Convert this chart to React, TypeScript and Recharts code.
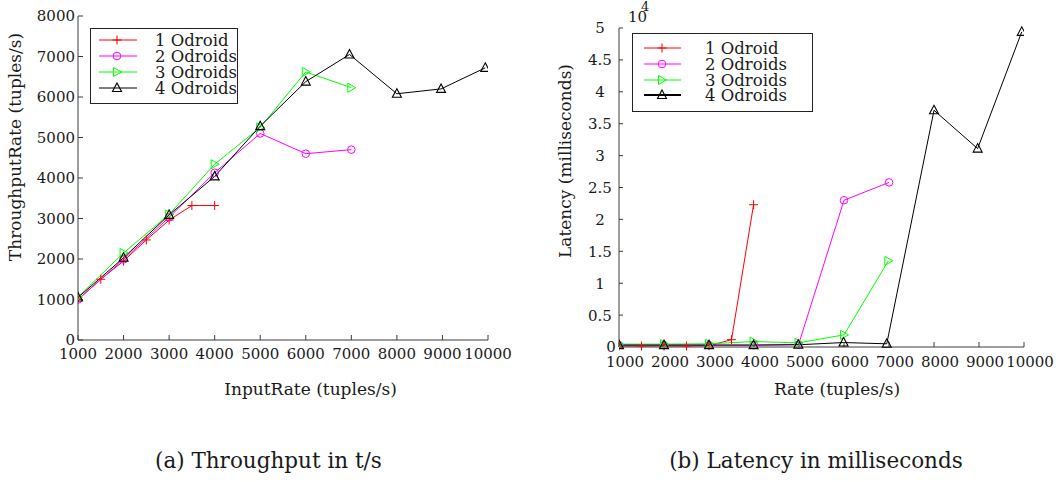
import React from 'react';
import { LineChart, Line, XAxis, YAxis, Legend } from 'recharts';

const FONT = '"DejaVu Serif", serif';
const AXIS = '#3c3c3c';
const TEXT = '#1a1a1a';

// ---------- shared ----------
const rateTicks = [1000, 2000, 3000, 4000, 5000, 6000, 7000, 8000, 9000, 10000];
const throughputTicks = [0, 1000, 2000, 3000, 4000, 5000, 6000, 7000, 8000];
const latencyTicks = [0, 5000, 10000, 15000, 20000, 25000, 30000, 35000, 40000, 45000, 50000];

const seriesNames = ['1 Odroid', '2 Odroids', '3 Odroids', '4 Odroids'];
const seriesColors = ['#ff0000', '#ff00ff', '#00ff00', '#000000'];
const seriesMarkers = ['plus', 'circle', 'triRight', 'triUp'];

// ---------- (a) throughput ----------
const tpRate1 = [1000, 1500, 2000, 2500, 3000, 3500, 4000];
const tpValue1 = [1000, 1500, 1950, 2470, 2960, 3320, 3320];
const tpRate2 = [1000, 2000, 3000, 4000, 5000, 6000, 7000];
const tpValue2 = [1000, 1990, 3030, 4130, 5100, 4600, 4700];
const tpRate3 = [1000, 2000, 3000, 4000, 5000, 6000, 7000];
const tpValue3 = [1060, 2150, 3100, 4340, 5250, 6620, 6230];
const tpRate4 = [1000, 2000, 3000, 4000, 5000, 6000, 6960, 8000, 8970, 9940];
const tpValue4 = [1050, 2030, 3090, 4040, 5280, 6380, 7050, 6080, 6200, 6720];

// ---------- (b) latency (ms) ----------
const latRate1 = [1000, 1500, 2000, 2500, 3000, 3500, 3990];
const latValue1 = [150, 150, 150, 150, 200, 1150, 22300];
const latRate2 = [1000, 2000, 3000, 4000, 4990, 6000, 7000];
const latValue2 = [300, 300, 300, 300, 400, 23000, 25800];
const latRate3 = [1000, 2000, 3000, 3990, 4990, 6000, 6985];
const latValue3 = [450, 450, 500, 850, 650, 1900, 13500];
const latRate4 = [1000, 2000, 3000, 3990, 4985, 5990, 6950, 8000, 8970, 9950];
const latValue4 = [300, 300, 300, 300, 350, 700, 500, 37100, 31100, 49400];

const zip = (xs: number[], ys: number[]) => xs.map((x, i) => ({ x, y: ys[i] }));

const tpSeries = [zip(tpRate1, tpValue1), zip(tpRate2, tpValue2), zip(tpRate3, tpValue3), zip(tpRate4, tpValue4)];
const latSeries = [zip(latRate1, latValue1), zip(latRate2, latValue2), zip(latRate3, latValue3), zip(latRate4, latValue4)];

function Marker({ kind, cx, cy, color }: { kind: string; cx: number; cy: number; color: string }) {
  if (cx == null || cy == null || isNaN(cx) || isNaN(cy)) return null;
  switch (kind) {
    case 'plus':
      return (
        <g stroke={color} strokeWidth={1}>
          <line x1={cx - 4.5} y1={cy} x2={cx + 4.5} y2={cy} />
          <line x1={cx} y1={cy - 4.5} x2={cx} y2={cy + 4.5} />
        </g>
      );
    case 'circle':
      return <circle cx={cx} cy={cy} r={3.8} fill="none" stroke={color} strokeWidth={1} />;
    case 'triRight':
      return (
        <polygon
          points={`${cx - 3.5},${cy - 4.5} ${cx + 4.5},${cy} ${cx - 3.5},${cy + 4.5}`}
          fill="none"
          stroke={color}
          strokeWidth={1}
        />
      );
    default:
      return (
        <polygon
          points={`${cx},${cy - 5} ${cx + 4.5},${cy + 3.5} ${cx - 4.5},${cy + 3.5}`}
          fill="none"
          stroke={color}
          strokeWidth={1.1}
        />
      );
  }
}

type LegendCfg = {
  width: number;
  height: number;
  rows: number[];
  lineX1: number;
  lineX2: number;
  markerX: number;
  textX: number;
  fontSize: number;
  thickLast?: boolean;
};

const makeLegend = (cfg: LegendCfg) => (props: any) => {
  const payload = (props && props.payload) || [];
  return (
    <div
      style={{
        position: 'relative',
        width: cfg.width,
        height: cfg.height,
        border: '1px solid #222',
        background: '#fff',
        boxSizing: 'border-box',
      }}
    >
      <svg width={cfg.width} height={cfg.height} style={{ position: 'absolute', left: -1, top: -1, overflow: 'visible' }}>
        {payload.map((e: any, i: number) => {
          const idx = seriesNames.indexOf(e.value);
          const y = cfg.rows[i];
          const color = seriesColors[idx];
          return (
            <g key={e.value}>
              <line
                x1={cfg.lineX1}
                x2={cfg.lineX2}
                y1={y}
                y2={y}
                stroke={color}
                strokeWidth={cfg.thickLast && idx === 3 ? 2 : 1}
              />
              <Marker kind={seriesMarkers[idx]} cx={cfg.markerX} cy={y} color={color} />
              <text x={cfg.textX} y={y + cfg.fontSize * 0.36} fontFamily={FONT} fontSize={cfg.fontSize} fill={TEXT}>
                {e.value}
              </text>
            </g>
          );
        })}
      </svg>
    </div>
  );
};

const leftLegend = makeLegend({
  width: 148,
  height: 76,
  rows: [12, 28, 44, 60],
  lineX1: 9,
  lineX2: 47,
  markerX: 27,
  textX: 65,
  fontSize: 16.5,
});

const rightLegend = makeLegend({
  width: 181,
  height: 79,
  rows: [15, 31, 47, 62],
  lineX1: 12,
  lineX2: 49,
  markerX: 30,
  textX: 73,
  fontSize: 16.5,
  thickLast: true,
});

const fmtLatency = (v: number) => String(v / 10000);

const RightYTick = (props: any) => {
  const { x, y, payload } = props;
  const v = payload.value;
  return (
    <text
      x={v === 0 ? x + 11 : x}
      y={y}
      dy="0.36em"
      textAnchor="middle"
      fontFamily={FONT}
      fontSize={15}
      fill={TEXT}
    >
      {fmtLatency(v)}
    </text>
  );
};

const tickFont = { fontFamily: FONT, fontSize: 15, fill: TEXT };

function ThroughputChart() {
  return (
    <LineChart width={520} height={400} margin={{ top: 16, right: 32, bottom: 0, left: 0 }}>
      <XAxis
        type="number"
        dataKey="x"
        domain={[1000, 10000]}
        ticks={rateTicks}
        interval={0}
        allowDataOverflow
        height={60}
        tickSize={-5}
        tickMargin={13}
        axisLine={{ stroke: AXIS }}
        tickLine={{ stroke: AXIS }}
        tick={tickFont}
      />
      <YAxis
        type="number"
        dataKey="y"
        domain={[0, 8000]}
        ticks={throughputTicks}
        interval={0}
        width={78}
        tickSize={-5}
        tickMargin={8}
        axisLine={{ stroke: AXIS }}
        tickLine={{ stroke: AXIS }}
        tick={tickFont}
      />
      <Legend
        layout="vertical"
        align="center"
        verticalAlign="middle"
        content={leftLegend}
        wrapperStyle={{ left: 90, top: 28, width: 'auto', height: 'auto' }}
      />
      {tpSeries.map((d, i) => (
        <Line
          key={seriesNames[i]}
          name={seriesNames[i]}
          data={d}
          dataKey="y"
          stroke={seriesColors[i]}
          strokeWidth={1}
          isAnimationActive={false}
          dot={(p: any) => (
            <Marker key={`tp-${i}-${p.index}`} kind={seriesMarkers[i]} cx={p.cx} cy={p.cy} color={seriesColors[i]} />
          )}
          activeDot={false}
        />
      ))}
    </LineChart>
  );
}

function LatencyChart() {
  return (
    <LineChart width={520} height={400} margin={{ top: 28, right: 36, bottom: 0, left: 0 }}>
      <XAxis
        type="number"
        dataKey="x"
        domain={[1000, 10000]}
        ticks={rateTicks}
        interval={0}
        allowDataOverflow
        height={53}
        tickSize={-5}
        tickMargin={14}
        axisLine={{ stroke: AXIS }}
        tickLine={{ stroke: AXIS }}
        tick={{ ...tickFont, dx: 6 }}
      />
      <YAxis
        type="number"
        dataKey="y"
        domain={[0, 50000]}
        ticks={latencyTicks}
        interval={0}
        width={79}
        tickSize={-4}
        tickMargin={23}
        axisLine={{ stroke: AXIS }}
        tickLine={{ stroke: AXIS }}
        tick={<RightYTick />}
      />
      <Legend
        layout="vertical"
        align="center"
        verticalAlign="middle"
        content={rightLegend}
        wrapperStyle={{ left: 92, top: 33, width: 'auto', height: 'auto' }}
      />
      {latSeries.map((d, i) => (
        <Line
          key={seriesNames[i]}
          name={seriesNames[i]}
          data={d}
          dataKey="y"
          stroke={seriesColors[i]}
          strokeWidth={1}
          isAnimationActive={false}
          dot={(p: any) => (
            <Marker key={`lat-${i}-${p.index}`} kind={seriesMarkers[i]} cx={p.cx} cy={p.cy} color={seriesColors[i]} />
          )}
          activeDot={false}
        />
      ))}
    </LineChart>
  );
}

export default function App() {
  return (
    <div style={{ position: 'absolute', left: 0, top: 0, width: 1060, height: 482, background: '#fff', overflow: 'hidden' }}>
      <div style={{ position: 'absolute', left: 0, top: 0 }}>
        <ThroughputChart />
      </div>
      <div style={{ position: 'absolute', left: 540, top: 0 }}>
        <LatencyChart />
      </div>
      <svg width={1060} height={482} style={{ position: 'absolute', left: 0, top: 0, pointerEvents: 'none' }}>
        <g fontFamily={FONT} fill={TEXT}>
          <text transform="translate(21,147) rotate(-90)" textAnchor="middle" fontSize={17}>
            ThroughputRate (tuples/s)
          </text>
          <text x={310.5} y={395} textAnchor="middle" fontSize={17}>
            InputRate (tuples/s)
          </text>
          <text transform="translate(571,161) rotate(-90)" textAnchor="middle" fontSize={17}>
            Latency (milliseconds)
          </text>
          <text x={837} y={395} textAnchor="middle" fontSize={17}>
            Rate (tuples/s)
          </text>
          <text x={628} y={22} fontSize={15}>10</text>
          <text x={641} y={11} fontSize={13}>4</text>
          <text x={155} y={468} fontSize={21.5}>(a) Throughput in t/s</text>
          <text x={816} y={468} textAnchor="middle" fontSize={21.5}>(b) Latency in milliseconds</text>
        </g>
      </svg>
    </div>
  );
}
